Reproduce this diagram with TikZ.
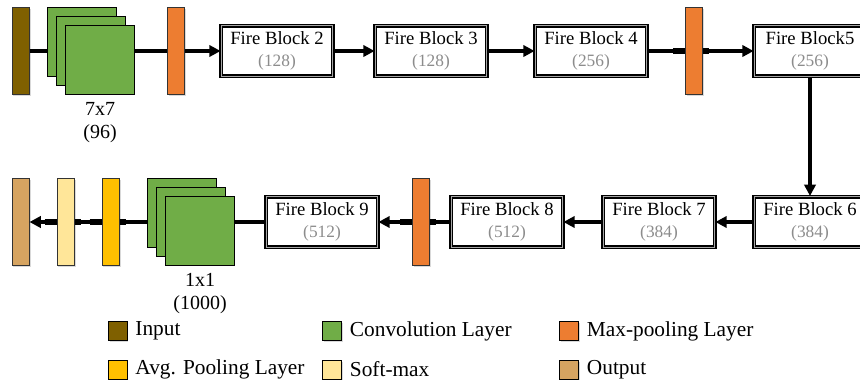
\documentclass[tikz,border=0pt]{standalone}
\usepackage{fontspec}
\setmainfont{Liberation Serif}
\usepackage{tikz}
\usepackage{xcolor}
\usetikzlibrary{arrows.meta,positioning,shadows}

\definecolor{inputcol}{HTML}{7F6000}
\definecolor{convcol}{HTML}{70AD47}
\definecolor{maxcol}{HTML}{ED7D31}
\definecolor{avgcol}{HTML}{FFC000}
\definecolor{softcol}{HTML}{FFE699}
\definecolor{outcol}{HTML}{D6A461}
\definecolor{numgray}{HTML}{8C8C8C}

\newcommand{\fireblock}[2]{#1\\{\color{numgray}\fontsize{13}{17}\selectfont(#2)}}

\begin{document}
\begin{tikzpicture}[
    x=0.75pt, y=0.75pt,
    castshadow/.style={drop shadow={shadow xshift=1.2pt, shadow yshift=-1.2pt, opacity=0.3}},
    bar/.style={rectangle, draw=black!80, line width=0.5pt, minimum width=13pt, minimum height=65pt, inner sep=0pt, castshadow},
    fmap/.style={rectangle, draw=black, line width=0.6pt, fill=convcol, minimum size=52pt, inner sep=0pt},
    fire/.style={rectangle, draw, line width=1.1pt, double=gray!70, double distance=0.7pt, fill=white,
        minimum width=83.5pt, minimum height=38pt, inner sep=0pt, align=center,
        font=\fontsize{14}{17}\selectfont, castshadow},
    link/.style={line width=2.4pt},
    arr/.style={link, -{Triangle[length=8.5pt,width=8.5pt]}},
    stub/.style={line width=4pt},
    lab/.style={font=\fontsize{15}{17.5}\selectfont, align=center, inner sep=1pt},
    key/.style={rectangle, draw=black, line width=0.5pt, minimum size=14pt, inner sep=0pt, castshadow},
    keytext/.style={font=\fontsize{16}{18}\selectfont, inner sep=0pt}
]
\useasboundingbox (0,0) rectangle (860,387);

% Top row: input, conv1, pooling, fire 2-5
\node[bar, fill=inputcol] (in) at (20.5,336) {};
\node[fmap] (c1a) at (82,345) {};
\node[fmap] (c1b) at (91,336) {};
\node[fmap] (c1) at (100,327) {};
\node[lab, below=4pt of c1] (c1lab) {7x7\\(96)};
\node[bar, fill=maxcol] (mp1) at (176,336) {};
\node[fire] (fb2) at (277,336) {\fireblock{Fire Block 2}{128}};
\node[fire] (fb3) at (431,336) {\fireblock{Fire Block 3}{128}};
\node[fire] (fb4) at (591,336) {\fireblock{Fire Block 4}{256}};
\node[bar, fill=maxcol] (mp2) at (694,336) {};
\node[fire] (fb5) at (810,336) {\fireblock{Fire Block5}{256}};

% Bottom row: fire 6-9, conv10, avg pool, soft-max, output
\node[fire] (fb6) at (810,165) {\fireblock{Fire Block 6}{384}};
\node[fire] (fb7) at (659,165) {\fireblock{Fire Block 7}{384}};
\node[fire] (fb8) at (507,165) {\fireblock{Fire Block 8}{512}};
\node[bar, fill=maxcol] (mp3) at (421,165) {};
\node[fire] (fb9) at (322,165) {\fireblock{Fire Block 9}{512}};
\node[fmap] (c2a) at (182,174) {};
\node[fmap] (c2b) at (191,165) {};
\node[fmap] (c2) at (200,156) {};
\node[lab, below=4pt of c2] (c2lab) {1x1\\(1000)};
\node[bar, fill=avgcol] (ap) at (110.5,165) {};
\node[bar, fill=softcol] (sm) at (65.5,165) {};
\node[bar, fill=outcol] (out) at (20.5,165) {};

% Connectors
\draw[link] (in.east) -- (in.east -| c1a.west);
\draw[link] (c1.east |- mp1) -- (mp1);
\draw[arr] (mp1) -- (fb2);
\draw[arr] (fb2) -- (fb3);
\draw[arr] (fb3) -- (fb4);
\draw[link] (fb4) -- (mp2);
\draw[arr] (mp2) -- (fb5);
\draw[arr] (fb5) -- (fb6);
\draw[arr] (fb6) -- (fb7);
\draw[arr] (fb7) -- (fb8);
\draw[link] (fb8) -- (mp3);
\draw[arr] (mp3) -- (fb9);
\draw[link] (fb9) -- (fb9 -| c2.east);
\draw[link] (c2a.west |- ap) -- (ap);
\draw[link] (ap) -- (sm);
\draw[arr] (sm) -- (out);

% thick stubs at the pooling bars
\foreach \b in {mp2,mp3,ap,sm} {
    \coordinate (\b-l) at ([xshift=-9pt]\b.west);
    \coordinate (\b-r) at ([xshift=4.5pt]\b.east);
    \draw[stub] (\b-l) -- (\b.west);
    \draw[stub] (\b.east) -- (\b-r);
}

% Legend
\node[key, fill=inputcol] (k1) at (117.5,56) {};
\node[keytext, right=6pt of k1] {Input};
\node[key, fill=convcol] (k2) at (332,56) {};
\node[keytext, right=6pt of k2] {Convolution Layer};
\node[key, fill=maxcol] (k3) at (569,56) {};
\node[keytext, right=6pt of k3] {Max-pooling Layer};
\node[key, fill=avgcol] (k4) at (117.5,17.5) {};
\node[keytext, right=6pt of k4] {Avg. Pooling Layer};
\node[key, fill=softcol] (k5) at (332,17.5) {};
\node[keytext, right=6pt of k5] {Soft-max};
\node[key, fill=outcol] (k6) at (569,17.5) {};
\node[keytext, right=6pt of k6] {Output};
\end{tikzpicture}
\end{document}
